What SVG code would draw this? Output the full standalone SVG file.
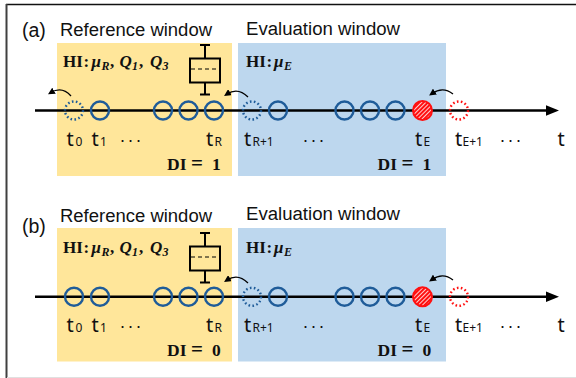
<svg xmlns="http://www.w3.org/2000/svg" width="576" height="378" viewBox="0 0 576 378">
<defs>
<style>
.title{font-family:"Liberation Sans",Arial,sans-serif;font-size:18px;fill:#111}
.lab{font-family:"Liberation Sans",Arial,sans-serif;font-size:19.5px;fill:#111}
.hi{font-family:"Liberation Serif","Times New Roman",serif;font-weight:bold;font-size:17px;fill:#111}
.m{font-style:italic}
.sub{font-size:12px;font-style:italic}
.di{font-family:"Liberation Serif","Times New Roman",serif;font-weight:bold;font-size:17.5px;fill:#111}
.eq{font-size:21px}
.t{font-family:"Noto Sans","Liberation Sans",sans-serif;font-size:20px;fill:#111}
.ts{font-size:12px}
.dots{font-family:"Liberation Sans",Arial,sans-serif;font-size:18px;fill:#111}
.c{fill:none;stroke:#1F5C99;stroke-width:2.4}
.cd{fill:none;stroke:#1F5C99;stroke-width:2.4;stroke-dasharray:1.6 2.4}
.rd{fill:none;stroke:#FF1010;stroke-width:2.4;stroke-dasharray:1.6 2.4}
.axis{stroke:#000;stroke-width:2.6}
.curve{fill:none;stroke:#000;stroke-width:1.3;marker-end:url(#ah)}
.box{fill:none;stroke:#000;stroke-width:2}
.yel{fill:#FFE69A}
.blu{fill:#BDD7EE}
</style>
<marker id="ah" viewBox="0 0 10 10" refX="5" refY="5" markerWidth="7" markerHeight="7" orient="auto" markerUnits="userSpaceOnUse">
<path d="M0,0 L10,5 L0,10 z" fill="#000"/>
</marker>
<pattern id="hatch" patternUnits="userSpaceOnUse" width="3" height="3" patternTransform="rotate(-45)">
<rect width="3" height="3" fill="#FF1010"/>
<line x1="0" y1="1.5" x2="3" y2="1.5" stroke="#FFFFFF" stroke-width="0.8"/>
</pattern>
</defs>
<rect width="576" height="378" fill="#fff"/>
<g id="frame">
<line x1="6" y1="4.5" x2="576" y2="4.5" stroke="#111" stroke-width="1.5"/>
<line x1="6.5" y1="4" x2="6.5" y2="378" stroke="#404040" stroke-width="2"/>
<line x1="7" y1="377.5" x2="576" y2="377.5" stroke="#e0e0e0" stroke-width="1"/>
</g>

<!-- Panel (a) -->
<g id="panel-a">
<text class="lab" x="22" y="37">(a)</text>
<g id="a-ref-window">
<rect class="yel" x="57" y="43" width="175" height="133"/>
<text class="title" x="60" y="36" textLength="152" lengthAdjust="spacingAndGlyphs">Reference window</text>
<text class="hi" x="63" y="67">HI<tspan x="83.5">:</tspan><tspan class="m" x="91.5">μ</tspan><tspan class="sub" x="101.5" dy="2.5">R</tspan><tspan x="110" dy="-2.5">,</tspan><tspan class="m" x="119.5">Q</tspan><tspan class="sub" x="132" dy="2.5">1</tspan><tspan x="139" dy="-2.5">,</tspan><tspan class="m" x="150">Q</tspan><tspan class="sub" x="162.5" dy="2.5">3</tspan></text>
<text class="di" x="167" y="170">DI<tspan class="eq" x="191">=</tspan><tspan x="212">1</tspan></text>
</g>
<g id="a-boxplot">
<line class="box" x1="200" y1="45" x2="210" y2="45"/>
<line class="box" x1="205" y1="45" x2="205" y2="58.5"/>
<rect class="box" x="190" y="58.5" width="30" height="24"/>
<line x1="191" y1="69" x2="219" y2="69" stroke="#000" stroke-width="1.2" stroke-dasharray="4 3"/>
<line class="box" x1="205" y1="82.5" x2="205" y2="94.5"/>
<line class="box" x1="200" y1="94.5" x2="210" y2="94.5"/>
</g>
<g id="a-eval-window">
<rect class="blu" x="238" y="43" width="208" height="133"/>
<text class="title" x="246" y="34.5" textLength="154" lengthAdjust="spacingAndGlyphs">Evaluation window</text>
<text class="hi" x="246" y="67">HI<tspan x="266.5">:</tspan><tspan class="m" x="274">μ</tspan><tspan class="sub" x="284" dy="2.5">E</tspan></text>
<text class="di" x="377.5" y="170">DI<tspan class="eq" x="401.5">=</tspan><tspan x="422.5">1</tspan></text>
</g>
<g id="a-connectors">
<line class="axis" x1="35" y1="110.5" x2="548" y2="110.5"/>
<polygon points="546,105.3 559,110.5 546,115.7" fill="#000"/>
<path class="curve" d="M71,96 Q62,86 51,92.5"/>
<path class="curve" d="M248,97 Q238,87 227,94"/>
<path class="curve" d="M453,94 Q443,86 432,93.5"/>
</g>
<g id="a-points">
<circle class="cd" cx="74" cy="110.5" r="9"/>
<circle class="c" cx="100" cy="110.5" r="9"/>
<circle class="c" cx="163" cy="110.5" r="9"/>
<circle class="c" cx="188.5" cy="110.5" r="9"/>
<circle class="c" cx="214" cy="110.5" r="9"/>
<circle class="cd" cx="252" cy="110.5" r="9"/>
<circle class="c" cx="278" cy="110.5" r="9"/>
<circle class="c" cx="344.5" cy="110.5" r="9"/>
<circle class="c" cx="370" cy="110.5" r="9"/>
<circle class="c" cx="395.5" cy="110.5" r="9"/>
<circle cx="422.5" cy="110.5" r="9.5" fill="url(#hatch)" stroke="#FF1010" stroke-width="2"/>
<circle class="rd" cx="459" cy="110.5" r="9"/>
</g>
<g id="a-labels">
<text class="t" x="66.5" y="146">t<tspan class="ts" x="75.5">0</tspan></text>
<text class="t" x="91.5" y="146">t<tspan class="ts" x="100">1</tspan></text>
<text class="dots" x="119.5" y="146" textLength="22">· · ·</text>
<text class="t" x="206" y="146">t<tspan class="ts" x="214.5">R</tspan></text>
<text class="t" x="244" y="146">t<tspan class="ts" x="252.5">R+1</tspan></text>
<text class="dots" x="302.5" y="146" textLength="22">· · ·</text>
<text class="t" x="415" y="146">t<tspan class="ts" x="423.5">E</tspan></text>
<text class="t" x="455" y="146">t<tspan class="ts" x="462.5">E+1</tspan></text>
<text class="dots" x="499.5" y="146" textLength="22">· · ·</text>
<text class="t" x="557.5" y="146">t</text>
</g>
</g>

<!-- Panel (b) -->
<g id="panel-b">
<text class="lab" x="22" y="233">(b)</text>
<g id="b-ref-window">
<rect class="yel" x="57" y="228" width="175" height="133.5"/>
<text class="title" x="60" y="221.5" textLength="152" lengthAdjust="spacingAndGlyphs">Reference window</text>
<text class="hi" x="63" y="253">HI<tspan x="83.5">:</tspan><tspan class="m" x="91.5">μ</tspan><tspan class="sub" x="101.5" dy="2.5">R</tspan><tspan x="110" dy="-2.5">,</tspan><tspan class="m" x="119.5">Q</tspan><tspan class="sub" x="132" dy="2.5">1</tspan><tspan x="139" dy="-2.5">,</tspan><tspan class="m" x="150">Q</tspan><tspan class="sub" x="162.5" dy="2.5">3</tspan></text>
<text class="di" x="167" y="355.5">DI<tspan class="eq" x="191">=</tspan><tspan x="212">0</tspan></text>
</g>
<g id="b-boxplot">
<line class="box" x1="200" y1="233" x2="210" y2="233"/>
<line class="box" x1="205" y1="233" x2="205" y2="246.5"/>
<rect class="box" x="190" y="246.5" width="30" height="24"/>
<line x1="191" y1="257" x2="219" y2="257" stroke="#000" stroke-width="1.2" stroke-dasharray="4 3"/>
<line class="box" x1="205" y1="270.5" x2="205" y2="282.5"/>
<line class="box" x1="200" y1="282.5" x2="210" y2="282.5"/>
</g>
<g id="b-eval-window">
<rect class="blu" x="238" y="228" width="208" height="133.5"/>
<text class="title" x="246" y="220" textLength="154" lengthAdjust="spacingAndGlyphs">Evaluation window</text>
<text class="hi" x="246" y="253">HI<tspan x="266.5">:</tspan><tspan class="m" x="274">μ</tspan><tspan class="sub" x="284" dy="2.5">E</tspan></text>
<text class="di" x="377.5" y="355.5">DI<tspan class="eq" x="401.5">=</tspan><tspan x="422.5">0</tspan></text>
</g>
<g id="b-connectors">
<line class="axis" x1="35" y1="296.8" x2="548" y2="296.8"/>
<polygon points="546,291.6 559,296.8 546,302" fill="#000"/>
<path class="curve" d="M248,283 Q238,273 227,280"/>
<path class="curve" d="M453,280 Q443,272 432,279.5"/>
</g>
<g id="b-points">
<circle class="c" cx="74" cy="296.8" r="9"/>
<circle class="c" cx="100" cy="296.8" r="9"/>
<circle class="c" cx="163" cy="296.8" r="9"/>
<circle class="c" cx="188.5" cy="296.8" r="9"/>
<circle class="c" cx="214" cy="296.8" r="9"/>
<circle class="cd" cx="252" cy="296.8" r="9"/>
<circle class="c" cx="278" cy="296.8" r="9"/>
<circle class="c" cx="344.5" cy="296.8" r="9"/>
<circle class="c" cx="370" cy="296.8" r="9"/>
<circle class="c" cx="395.5" cy="296.8" r="9"/>
<circle cx="422.5" cy="296.8" r="9.5" fill="url(#hatch)" stroke="#FF1010" stroke-width="2"/>
<circle class="rd" cx="459" cy="296.8" r="9"/>
</g>
<g id="b-labels">
<text class="t" x="66.5" y="332">t<tspan class="ts" x="75.5">0</tspan></text>
<text class="t" x="91.5" y="332">t<tspan class="ts" x="100">1</tspan></text>
<text class="dots" x="119.5" y="332" textLength="22">· · ·</text>
<text class="t" x="206" y="332">t<tspan class="ts" x="214.5">R</tspan></text>
<text class="t" x="244" y="332">t<tspan class="ts" x="252.5">R+1</tspan></text>
<text class="dots" x="302.5" y="332" textLength="22">· · ·</text>
<text class="t" x="415" y="332">t<tspan class="ts" x="423.5">E</tspan></text>
<text class="t" x="455" y="332">t<tspan class="ts" x="462.5">E+1</tspan></text>
<text class="dots" x="499.5" y="332" textLength="22">· · ·</text>
<text class="t" x="557.5" y="332">t</text>
</g>
</g>
</svg>
